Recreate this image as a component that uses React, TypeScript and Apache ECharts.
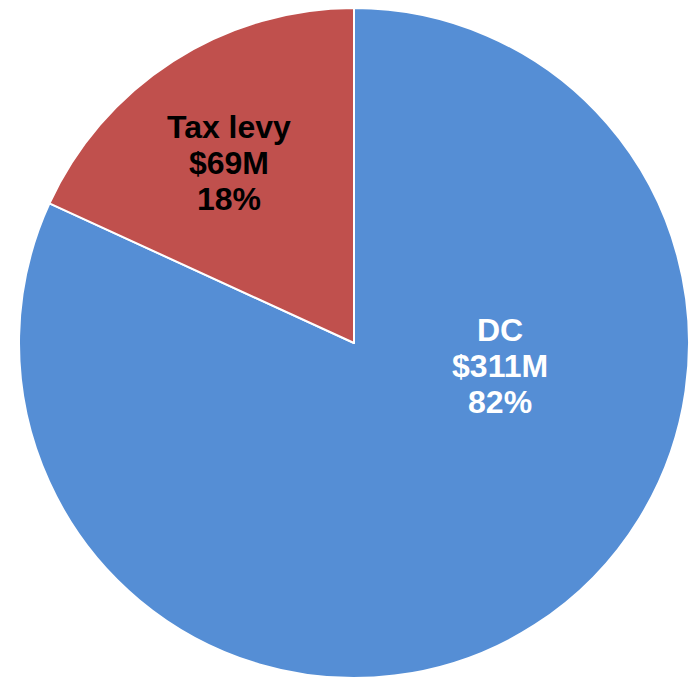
import React, { useEffect, useRef } from "react";
import * as echarts from "echarts";

const categories = ["DC", "Tax levy"];
const values = [311, 69];
const amountLabels = ["$311M", "$69M"];
const percentLabels = ["82%", "18%"];
const colors = ["#558ED5", "#C0504D"];
const labelColors = ["#FFFFFF", "#000000"];
const labelOffsets: [number, number][] = [
  [54, -121],
  [-33, -36],
];

export default function App() {
  const ref = useRef<HTMLDivElement>(null);
  useEffect(() => {
    if (!ref.current) return;
    const chart = echarts.init(ref.current, null, { renderer: "svg" });
    const data = categories.map((name, i) => ({
      name,
      value: values[i],
      itemStyle: { color: colors[i] },
      label: {
        color: labelColors[i],
        offset: labelOffsets[i],
        formatter: `${name}\n${amountLabels[i]}\n${percentLabels[i]}`,
      },
    }));
    chart.setOption({
      animation: false,
      series: [
        {
          type: "pie",
          center: [354, 343],
          radius: [0, 335],
          startAngle: 90,
          clockwise: true,
          avoidLabelOverlap: false,
          itemStyle: { borderColor: "#FFFFFF", borderWidth: 2 },
          label: {
            show: true,
            position: "inside",
            fontFamily: "Liberation Sans, Arial, sans-serif",
            fontWeight: "bold",
            fontSize: 32,
            lineHeight: 36,
            align: "center",
          },
          labelLine: { show: false },
          emphasis: { disabled: true },
          data,
        },
      ],
    });
    return () => chart.dispose();
  }, []);
  return (
    <div
      ref={ref}
      style={{ position: "absolute", left: 0, top: 0, width: 689, height: 678, background: "#FFFFFF" }}
    />
  );
}
